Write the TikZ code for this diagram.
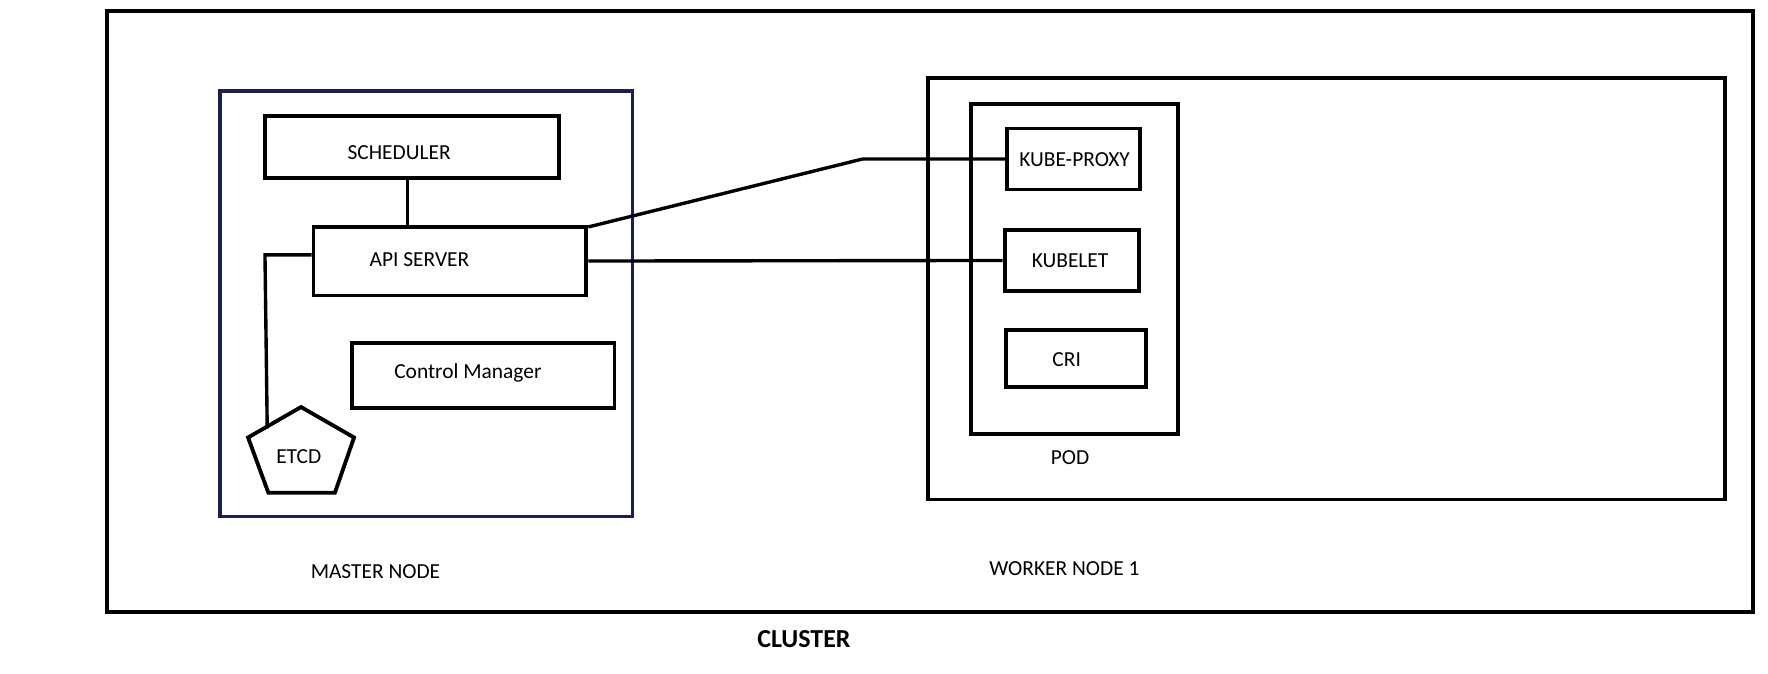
\documentclass[tikz,border=0pt]{standalone}
\usepackage{fontspec}
\setmainfont{Carlito}
\definecolor{navy}{HTML}{1B2050}
\begin{document}
\begin{tikzpicture}[x=1pt,y=-1pt,
  frame/.style={draw=black,line width=3.4pt},
  box/.style={draw=black,line width=3.4pt,inner sep=0pt},
  wire/.style={draw=black,line width=3pt},
  lbl/.style={font=\fontsize{19}{22}\selectfont,inner sep=0pt}]
\useasboundingbox (0,0) rectangle (1568,597);
% cluster
\draw[frame] (95,10) rectangle (1555,543);
\node[font=\bfseries\fontsize{23}{27}\selectfont] (cl) at (713,567) {CLUSTER};
% master node
\draw[draw=navy,line width=3.4pt] (195,81) rectangle (561,458);
\node[lbl] (ml) at (333,507) {MASTER NODE};
\node[box,minimum width=261pt,minimum height=55pt] (sch) at (365.5,130.5) {};
\node[lbl] at (354,135) {SCHEDULER};
\node[box,minimum width=242pt,minimum height=61pt] (api) at (399,231.5) {};
\node[lbl] at (372,230) {API SERVER};
\node[box,minimum width=233pt,minimum height=58pt] (cm) at (428.5,333) {};
\node[lbl] at (415,331) {Control Manager};
% etcd pentagon
\coordinate (p1) at (267,361);
\coordinate (p2) at (314,388);
\coordinate (p3) at (297,437);
\coordinate (p4) at (238,437);
\coordinate (p5) at (220,388);
\draw[line width=3.4pt,line join=miter] (p1) -- (p2) -- (p3) -- (p4) -- (p5) -- cycle;
\node[lbl] (etcd) at (265,405) {ETCD};
\coordinate (etcdtop) at (237,380);
% worker node
\draw[frame] (823,69) rectangle (1530,443);
\node[lbl] (wl) at (944,504) {WORKER NODE 1};
\draw[frame] (861,92) rectangle (1045,385);
\node[lbl] (pod) at (949,406) {POD};
\node[box,minimum width=118pt,minimum height=54pt] (kp) at (952,141) {};
\node[lbl] at (953,142) {KUBE-PROXY};
\node[box,minimum width=119pt,minimum height=54pt] (kl) at (950.5,231) {};
\node[lbl] at (949,231) {KUBELET};
\node[box,minimum width=124pt,minimum height=50pt] (cri) at (954,318) {};
\node[lbl] at (946,319) {CRI};
% connectors
\draw[line width=2.6pt] (sch.south -| 361,0) -- (api.north -| 361,0);
\coordinate (bend1) at (765,141);
\draw[wire] (api.north east) ++(0,2) -- (bend1) -- (kp.west);
\draw[wire] (api.east) -- (kl.west);
\coordinate (c1) at (235,226);
\draw[wire] (api.west |- c1) -- (c1) -- (etcdtop);
\end{tikzpicture}
\end{document}
